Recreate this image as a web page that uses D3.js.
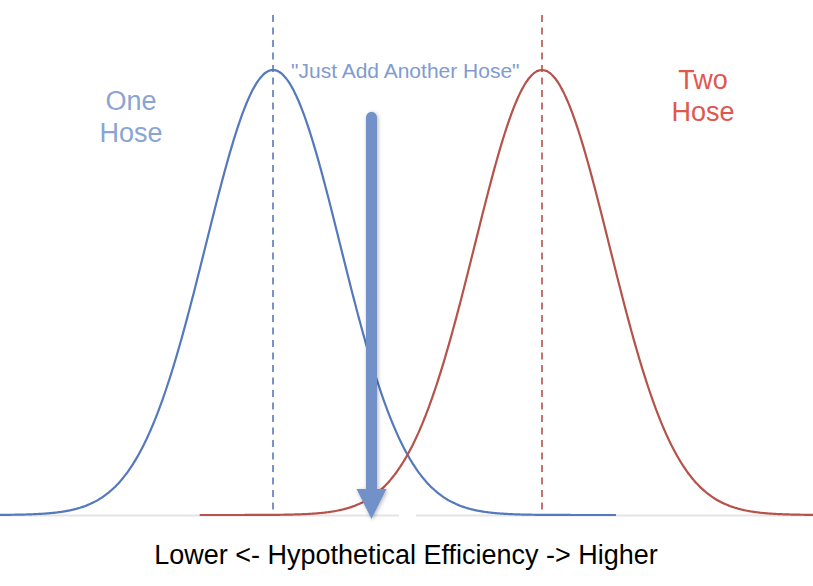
<!DOCTYPE html>
<html><head><meta charset="utf-8">
<script src="https://cdn.jsdelivr.net/npm/d3@7"></script>
<style>html,body{margin:0;padding:0;background:#fff}svg{display:block}text{font-family:'Liberation Sans',Arial,sans-serif}</style>
</head><body>
<svg id="c" width="813" height="586"></svg>
<script>
// Data: two normal distributions (hypothetical efficiency)
const seriesNames = ["One Hose", "Two Hose"];
const seriesMeans = [3, 7];
const seriesSD = [1, 1];
const seriesRanges = [[-1.06, 8.1], [1.91, 11.03]];
const arrowRange = [0.906, 0.0]; // relative density from top to bottom
const axisLabel = "Lower <- Hypothetical Efficiency -> Higher";
const annotation = "\"Just Add Another Hose\"";

const W = 813, H = 586;
const svg = d3.select("#c");
const x = d3.scaleLinear().domain([-1.06, 11.03]).range([0, 813]);
const y = d3.scaleLinear().domain([0, 1]).range([515, 70]);
const colors = ["#5579bd", "#b5524a"];
const textColors = ["#8aa4d6", "#e0574c"];

// baseline (with small gap)
svg.append("line").attr("x1", 0).attr("x2", 399).attr("y1", 515.5).attr("y2", 515.5)
  .attr("stroke", "#e4e4e4").attr("stroke-width", 2);
svg.append("line").attr("x1", 416).attr("x2", 813).attr("y1", 515.5).attr("y2", 515.5)
  .attr("stroke", "#e4e4e4").attr("stroke-width", 2);

const line = d3.line().x(d => x(d[0])).y(d => y(d[1])).curve(d3.curveBasis);

seriesMeans.forEach((m, i) => {
  const sd = seriesSD[i];
  const [a, b] = seriesRanges[i];
  const pts = d3.range(a, b + 0.001, 0.02).map(v => [v, Math.exp(-0.5 * ((v - m) / sd) ** 2)]);
  svg.append("line").attr("x1", x(m)).attr("x2", x(m)).attr("y1", 15).attr("y2", 515)
    .attr("stroke", colors[i]).attr("stroke-width", 1.6).attr("stroke-dasharray", "7,5.5");
  svg.append("path").datum(pts).attr("d", line).attr("fill", "none")
    .attr("stroke", colors[i]).attr("stroke-width", 2.2);
});

// labels
const lab = [[131, 110, 142], [703, 89, 121]];
seriesNames.forEach((n, i) => {
  const t = svg.append("text").attr("text-anchor", "middle")
    .attr("font-size", 27).attr("fill", textColors[i]);
  const parts = n.split(" ");
  t.append("tspan").attr("x", lab[i][0]).attr("y", lab[i][1]).text(parts[0]);
  t.append("tspan").attr("x", lab[i][0]).attr("y", lab[i][2]).text(parts[1]);
});

svg.append("text").attr("x", 291).attr("y", 78)
  .attr("font-size", 21).attr("fill", "#7f9bd0").text(annotation);

// arrow
const ax = 371.5;
const defs = svg.append("defs");
const f = defs.append("filter").attr("id", "sh").attr("x", "-50%").attr("y", "-10%").attr("width", "200%").attr("height", "120%");
f.append("feGaussianBlur").attr("in", "SourceAlpha").attr("stdDeviation", 2);
f.append("feOffset").attr("dx", 1).attr("dy", 1).attr("result", "b");
f.append("feComponentTransfer").append("feFuncA").attr("type", "linear").attr("slope", 0.3);
const fm = f.append("feMerge"); fm.append("feMergeNode"); fm.append("feMergeNode").attr("in", "SourceGraphic");
const ay0 = y(arrowRange[0]), ay1 = y(arrowRange[1]) + 4;
const g = svg.append("g").attr("filter", "url(#sh)");
g.append("path")
  .attr("d", `M${ax-5.5},${ay0+5.5} A5.5,5.5 0 0 1 ${ax+5.5},${ay0+5.5} L${ax+5.5},489 L${ax+15},489 L${ax},${ay1} L${ax-15},489 L${ax-5.5},489 Z`)
  .attr("fill", "#7291c8");

// axis label
svg.append("text").attr("x", 406).attr("y", 564).attr("text-anchor", "middle")
  .attr("font-size", 27).attr("fill", "#000").text(axisLabel);
</script>
</body></html>
